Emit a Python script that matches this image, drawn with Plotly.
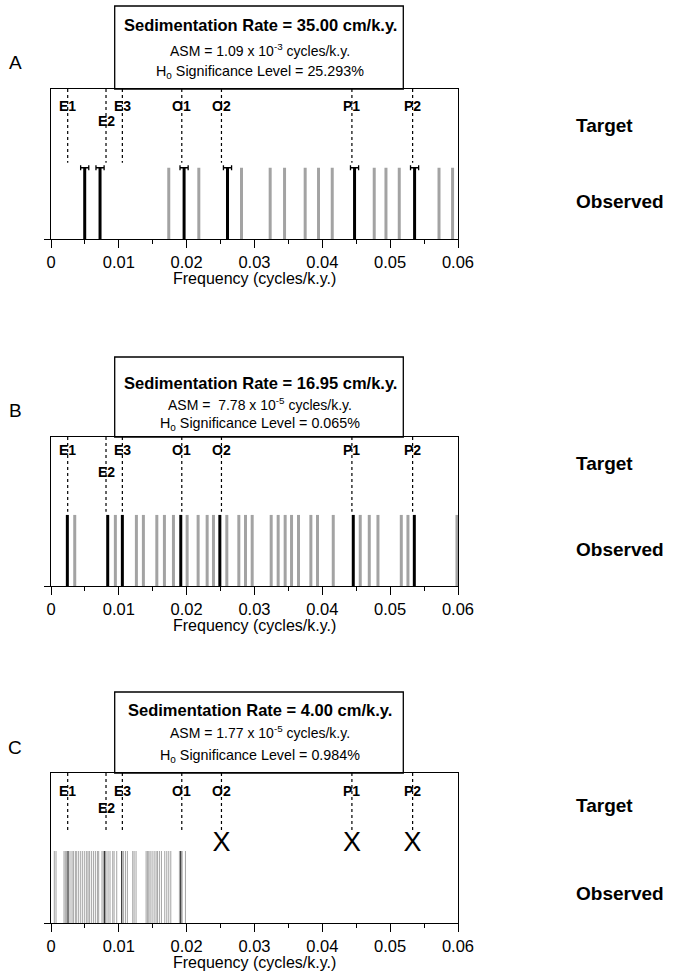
import plotly.graph_objects as go

W, H = 683, 977

# ---------------- data ----------------
target_names = ["E1", "E2", "E3", "O1", "O2", "P1", "P2"]
target_freqs = [0.00246, 0.00811, 0.01052, 0.01928, 0.02513, 0.04436, 0.05331]

# Panel A (35.00 cm/k.y.)
a_matched = [0.00497, 0.00723, 0.01962, 0.02602, 0.04475, 0.05360]
a_other = [0.01736, 0.02179, 0.02808, 0.03231, 0.03443, 0.03747, 0.03944,
           0.04146, 0.04765, 0.04938, 0.05134, 0.05720, 0.05920]
a_err = 0.0006

# Panel B (16.95 cm/k.y.)
b_matched = [0.00241, 0.00836, 0.01052, 0.01913, 0.02489, 0.04456, 0.05356]
b_other = [0.00350, 0.00949, 0.01259, 0.01362, 0.01560, 0.01672, 0.01805,
           0.02007, 0.02169, 0.02302, 0.02395, 0.02592, 0.02769, 0.02867,
           0.02966, 0.03246, 0.03349, 0.03452, 0.03546, 0.03649, 0.03831,
           0.03929, 0.04161, 0.04559, 0.04692, 0.04820, 0.05164, 0.05262,
           0.05985]

# Panel C (4.00 cm/k.y.)
c_matched = [0.00251, 0.00792, 0.01043, 0.01913]
c_other = [0.00049, 0.00074, 0.00192, 0.00211, 0.00231, 0.00280, 0.00310,
           0.00330, 0.00359, 0.00379, 0.00408, 0.00438, 0.00467, 0.00497,
           0.00526, 0.00546, 0.00566, 0.00595, 0.00625, 0.00654, 0.00684,
           0.00703, 0.00752, 0.00772, 0.00811, 0.00841, 0.00870, 0.00910,
           0.00930, 0.00969, 0.01067, 0.01097, 0.01126, 0.01205, 0.01225,
           0.01254, 0.01402, 0.01421, 0.01441, 0.01461, 0.01490, 0.01520,
           0.01549, 0.01569, 0.01598, 0.01628, 0.01677, 0.01707, 0.01736,
           0.01766, 0.01893, 0.01933, 0.01982]
c_missing = ["O2", "P1", "P2"]

panel_letters = ["A", "B", "C"]
sed_rates = ["35.00", "16.95", "4.00"]
asm_mant = ["1.09", " 7.78", "1.77"]
asm_exp = ["-3", "-5", "-5"]
sig_levels = ["25.293", "0.065", "0.984"]

tick_vals = [0, 0.01, 0.02, 0.03, 0.04, 0.05, 0.06]
tick_text = ["0", "0.01", "0.02", "0.03", "0.04", "0.05", "0.06"]

# ---------------- layout geometry (pixels) ----------------
FONT = "Liberation Sans, Arial, Helvetica, sans-serif"
X0, X1 = 51, 458
panels = [
    dict(top=89, bot=239, tbox=6, ty=[25, 50, 72], lab_y=63, tgt_y=125, obs_y=201,
         name_y=(106, 121), bar_h=0.475, tgt_bot=0.509,
         matched=a_matched, other=a_other, err=a_err, lw=3, missing=[]),
    dict(top=437, bot=586, tbox=357, ty=[383, 404, 424], lab_y=411, tgt_y=463, obs_y=549,
         name_y=(450, 472), bar_h=0.477, tgt_bot=0.499,
         matched=b_matched, other=b_other, err=None, lw=3, missing=[]),
    dict(top=773, bot=923, tbox=692, ty=[710, 732, 756], lab_y=747, tgt_y=805, obs_y=893,
         name_y=(791, 808), bar_h=0.48, tgt_bot=0.62,
         matched=c_matched, other=c_other, err=None, lw=1, missing=c_missing),
]


def px(x):
    return x / W


def py(y):
    return 1 - y / H


fig = go.Figure()
annotations = []
shapes = []

for i, p in enumerate(panels):
    n = "" if i == 0 else str(i + 1)
    xa, ya = "x" + n, "y" + n
    lay_x = "xaxis" + n
    lay_y = "yaxis" + n
    fig.layout[lay_x] = dict(
        domain=[px(X0), px(X1)], range=[0, 0.06], anchor=ya,
        showline=True, linecolor="black", linewidth=1.3, mirror=True,
        ticks="outside", ticklen=8, tickwidth=1.2, tickcolor="black",
        tickvals=tick_vals, ticktext=tick_text,
        minor=dict(ticks="outside", ticklen=4, tickwidth=1.2, tickcolor="black", dtick=0.005,
                   tick0=0),
        showgrid=False, zeroline=False, automargin=False, fixedrange=True,
        tickfont=dict(family=FONT, size=16.5, color="black"),
    )
    fig.layout[lay_y] = dict(
        domain=[py(p["bot"]), py(p["top"])], range=[0, 1], anchor=xa,
        showline=True, linecolor="black", linewidth=1.3, mirror=True,
        ticks="outside", ticklen=6, tickwidth=1.2, tickcolor="black",
        tickvals=[0], showticklabels=False, fixedrange=True,
        showgrid=False, zeroline=False, automargin=False,
    )

    # target dotted lines
    tx, ty = [], []
    for f in target_freqs:
        tx += [f, f, None]
        ty += [1, p["tgt_bot"], None]
    fig.add_trace(go.Scatter(x=tx, y=ty, mode="lines", xaxis=xa, yaxis=ya,
                             line=dict(color="black", width=1.2, dash="dot"),
                             hoverinfo="skip", showlegend=False))

    # other (unmatched) observed peaks
    ox, oy = [], []
    for f in p["other"]:
        ox += [f, f, None]
        oy += [0, p["bar_h"], None]
    fig.add_trace(go.Scatter(x=ox, y=oy, mode="lines", xaxis=xa, yaxis=ya,
                             line=dict(color="#a3a3a3", width=p["lw"]),
                             hoverinfo="skip", showlegend=False))

    # matched peaks
    mx, my = [], []
    for f in p["matched"]:
        mx += [f, f, None]
        my += [0, p["bar_h"], None]
    fig.add_trace(go.Scatter(x=mx, y=my, mode="lines", xaxis=xa, yaxis=ya,
                             line=dict(color="black", width=p["lw"]),
                             hoverinfo="skip", showlegend=False))

    if p["err"] is not None:
        fig.add_trace(go.Scatter(
            x=p["matched"], y=[p["bar_h"]] * len(p["matched"]), mode="markers",
            xaxis=xa, yaxis=ya, marker=dict(size=1, color="black"),
            error_x=dict(type="constant", value=p["err"], color="black",
                         thickness=1.3, width=2.5),
            hoverinfo="skip", showlegend=False))

    # missing targets marked with X
    if p["missing"]:
        xs = [target_freqs[target_names.index(m)] for m in p["missing"]]
        fig.add_trace(go.Scatter(
            x=xs, y=[(p["bot"] - 844) / (p["bot"] - p["top"])] * len(xs),
            mode="text", text=["X"] * len(xs), xaxis=xa, yaxis=ya,
            textfont=dict(family=FONT, size=27, color="black"),
            hoverinfo="skip", showlegend=False))

    # target labels
    for name, f in zip(target_names, target_freqs):
        yy = p["name_y"][1] if name == "E2" else p["name_y"][0]
        annotations.append(dict(x=f, xref=xa, y=py(yy), yref="paper",
                                text="<b>%s</b>" % name, showarrow=False,
                                xanchor="center", yanchor="middle",
                                font=dict(family=FONT, size=14, color="black")))

    # title box
    shapes.append(dict(type="rect", xref="paper", yref="paper",
                       x0=px(114.7), x1=px(403.3), y0=py(p["top"]), y1=py(p["tbox"]),
                       line=dict(color="black", width=1.3), fillcolor="white", layer="below"))
    cx = px(260)
    annotations.append(dict(x=cx, y=py(p["ty"][0]), xref="paper", yref="paper",
                            text="<b>Sedimentation Rate = %s cm/k.y.</b>" % sed_rates[i],
                            showarrow=False, xanchor="center", yanchor="middle",
                            font=dict(family=FONT, size=16.5, color="black")))
    annotations.append(dict(x=cx, y=py(p["ty"][1]), xref="paper", yref="paper",
                            text="ASM = %s x 10<sup>%s</sup> cycles/k.y." % (asm_mant[i], asm_exp[i]),
                            showarrow=False, xanchor="center", yanchor="middle",
                            font=dict(family=FONT, size=14, color="black")))
    annotations.append(dict(x=cx, y=py(p["ty"][2]), xref="paper", yref="paper",
                            text="H<sub>o</sub> Significance Level = %s%%" % sig_levels[i],
                            showarrow=False, xanchor="center", yanchor="middle",
                            font=dict(family=FONT, size=14.3, color="black")))

    # panel letter
    annotations.append(dict(x=px(15), y=py(p["lab_y"]), xref="paper", yref="paper",
                            text=panel_letters[i], showarrow=False,
                            xanchor="center", yanchor="middle",
                            font=dict(family=FONT, size=19, color="black")))
    # Target / Observed
    annotations.append(dict(x=px(574), y=py(p["tgt_y"]), xref="paper", yref="paper",
                            text="<b>Target</b>", showarrow=False,
                            xanchor="left", yanchor="middle",
                            font=dict(family=FONT, size=19, color="black")))
    annotations.append(dict(x=px(574), y=py(p["obs_y"]), xref="paper", yref="paper",
                            text="<b>Observed</b>", showarrow=False,
                            xanchor="left", yanchor="middle",
                            font=dict(family=FONT, size=19, color="black")))
    # x-axis title
    annotations.append(dict(x=px((X0 + X1) / 2), y=py(p["bot"] + 39), xref="paper", yref="paper",
                            text="Frequency (cycles/k.y.)", showarrow=False,
                            xanchor="center", yanchor="middle",
                            font=dict(family=FONT, size=16, color="black")))

fig.update_layout(
    width=W, height=H, margin=dict(l=0, r=0, t=0, b=0),
    paper_bgcolor="white", plot_bgcolor="white",
    annotations=annotations, shapes=shapes, showlegend=False,
    font=dict(family=FONT, color="black"),
)

fig.write_html("out.html", config={"displayModeBar": False},
               post_script="document.body.style.margin='0px';document.body.style.overflow='hidden';")
